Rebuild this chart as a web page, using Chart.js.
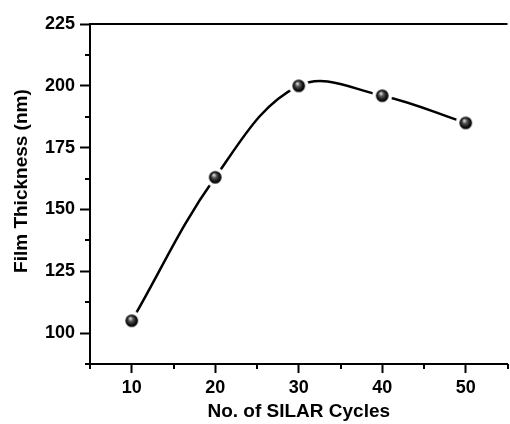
<!DOCTYPE html>
<html>
<head>
<meta charset="utf-8">
<script src="https://cdn.jsdelivr.net/npm/chart.js@4/dist/chart.umd.min.js"></script>
<style>
  html, body { margin: 0; padding: 0; background: #fff; overflow: hidden; }
  canvas { display: block; }
</style>
</head>
<body>
<canvas id="c" width="520" height="424"></canvas>
<script>
// Film thickness versus number of SILAR cycles
const cycles = [10, 20, 30, 40, 50];
const thickness = [105, 163, 200, 196, 185];

const xTitle = 'No. of SILAR Cycles';
const yTitle = 'Film Thickness (nm)';
const xRange = [5, 55];
const yRange = [87.5, 225];
const xLabelStep = 10;
const yLabelStep = 25;

const FONT = '"Liberation Sans", Arial, sans-serif';

// Shaded sphere marker with a white halo so the curve stops short of it
function sphereMarker() {
  const size = 21, c = size / 2;
  const cv = document.createElement('canvas');
  cv.width = size; cv.height = size;
  const g = cv.getContext('2d');
  g.fillStyle = '#fff';
  g.beginPath(); g.arc(c, c, 10, 0, Math.PI * 2); g.fill();
  const grad = g.createRadialGradient(c - 1.5, c - 2.5, 0.3, c, c, 6.3);
  grad.addColorStop(0, '#e8e8e8');
  grad.addColorStop(0.35, '#555');
  grad.addColorStop(0.75, '#111');
  grad.addColorStop(1, '#000');
  g.fillStyle = grad;
  g.beginPath(); g.arc(c, c, 6.3, 0, Math.PI * 2); g.fill();
  return cv;
}

// Short minor ticks, top frame line and the rotated y title
const framePlugin = {
  id: 'frame',
  afterDraw(chart) {
    const ctx = chart.ctx;
    const x = chart.scales.x, y = chart.scales.y;
    const area = chart.chartArea;
    ctx.save();
    ctx.strokeStyle = '#000';
    ctx.lineWidth = 2;
    ctx.beginPath();
    x.ticks.forEach(t => {
      if (t.value % xLabelStep !== 0) {
        const px = Math.round(x.getPixelForValue(t.value));
        ctx.moveTo(px, area.bottom);
        ctx.lineTo(px, area.bottom + 5);
      }
    });
    y.ticks.forEach(t => {
      if (t.value % yLabelStep !== 0) {
        const py = Math.round(y.getPixelForValue(t.value));
        ctx.moveTo(area.left - 5, py);
        ctx.lineTo(area.left, py);
      }
    });
    ctx.moveTo(area.left - 1, area.top);
    ctx.lineTo(area.right, area.top);
    ctx.stroke();

    ctx.fillStyle = '#000';
    ctx.font = 'bold 19px ' + FONT;
    ctx.textAlign = 'center';
    ctx.textBaseline = 'alphabetic';
    ctx.translate(27, area.top + (area.bottom - area.top) * 0.462);
    ctx.rotate(-Math.PI / 2);
    ctx.fillText(yTitle, 0, 0);
    ctx.restore();
  }
};

new Chart(document.getElementById('c'), {
  type: 'line',
  data: {
    datasets: [{
      data: cycles.map((v, i) => ({ x: v, y: thickness[i] })),
      borderColor: '#000',
      borderWidth: 2.5,
      tension: 0.38,
      fill: false,
      pointStyle: sphereMarker(),
      pointRadius: 10,
      clip: false
    }]
  },
  options: {
    responsive: false,
    animation: false,
    devicePixelRatio: 1,
    events: [],
    layout: { padding: { top: 24, right: 8, left: 0, bottom: 0 } },
    plugins: { legend: { display: false }, tooltip: { enabled: false } },
    scales: {
      x: {
        type: 'linear',
        min: xRange[0], max: xRange[1],
        afterFit: s => { s.height = 60; },
        border: { display: true, color: '#000', width: 2 },
        grid: {
          display: true, drawOnChartArea: false, drawTicks: true,
          tickLength: 9, tickWidth: 2,
          tickColor: c => (c.tick && c.tick.value % xLabelStep === 0) ? '#000' : 'rgba(0,0,0,0)'
        },
        ticks: {
          stepSize: 5, padding: 4, color: '#000', maxRotation: 0, autoSkip: false,
          font: { family: FONT, size: 18, weight: 'bold' },
          callback: v => (v % xLabelStep === 0 ? String(v) : '')
        },
        title: {
          display: true, text: xTitle, color: '#000',
          padding: { top: 0, bottom: 1 },
          font: { family: FONT, size: 19, weight: 'bold' }
        }
      },
      y: {
        type: 'linear',
        min: yRange[0], max: yRange[1],
        afterFit: s => { s.width = 90; },
        border: { display: true, color: '#000', width: 2 },
        grid: {
          display: true, drawOnChartArea: false, drawTicks: true,
          tickLength: 10, tickWidth: 2,
          tickColor: c => (c.tick && c.tick.value % yLabelStep === 0) ? '#000' : 'rgba(0,0,0,0)'
        },
        ticks: {
          stepSize: 12.5, padding: 5, color: '#000', autoSkip: false,
          font: { family: FONT, size: 18, weight: 'bold' },
          callback: v => (v % yLabelStep === 0 ? String(v) : '')
        },
        title: { display: false }
      }
    }
  },
  plugins: [framePlugin]
});
</script>
</body>
</html>
